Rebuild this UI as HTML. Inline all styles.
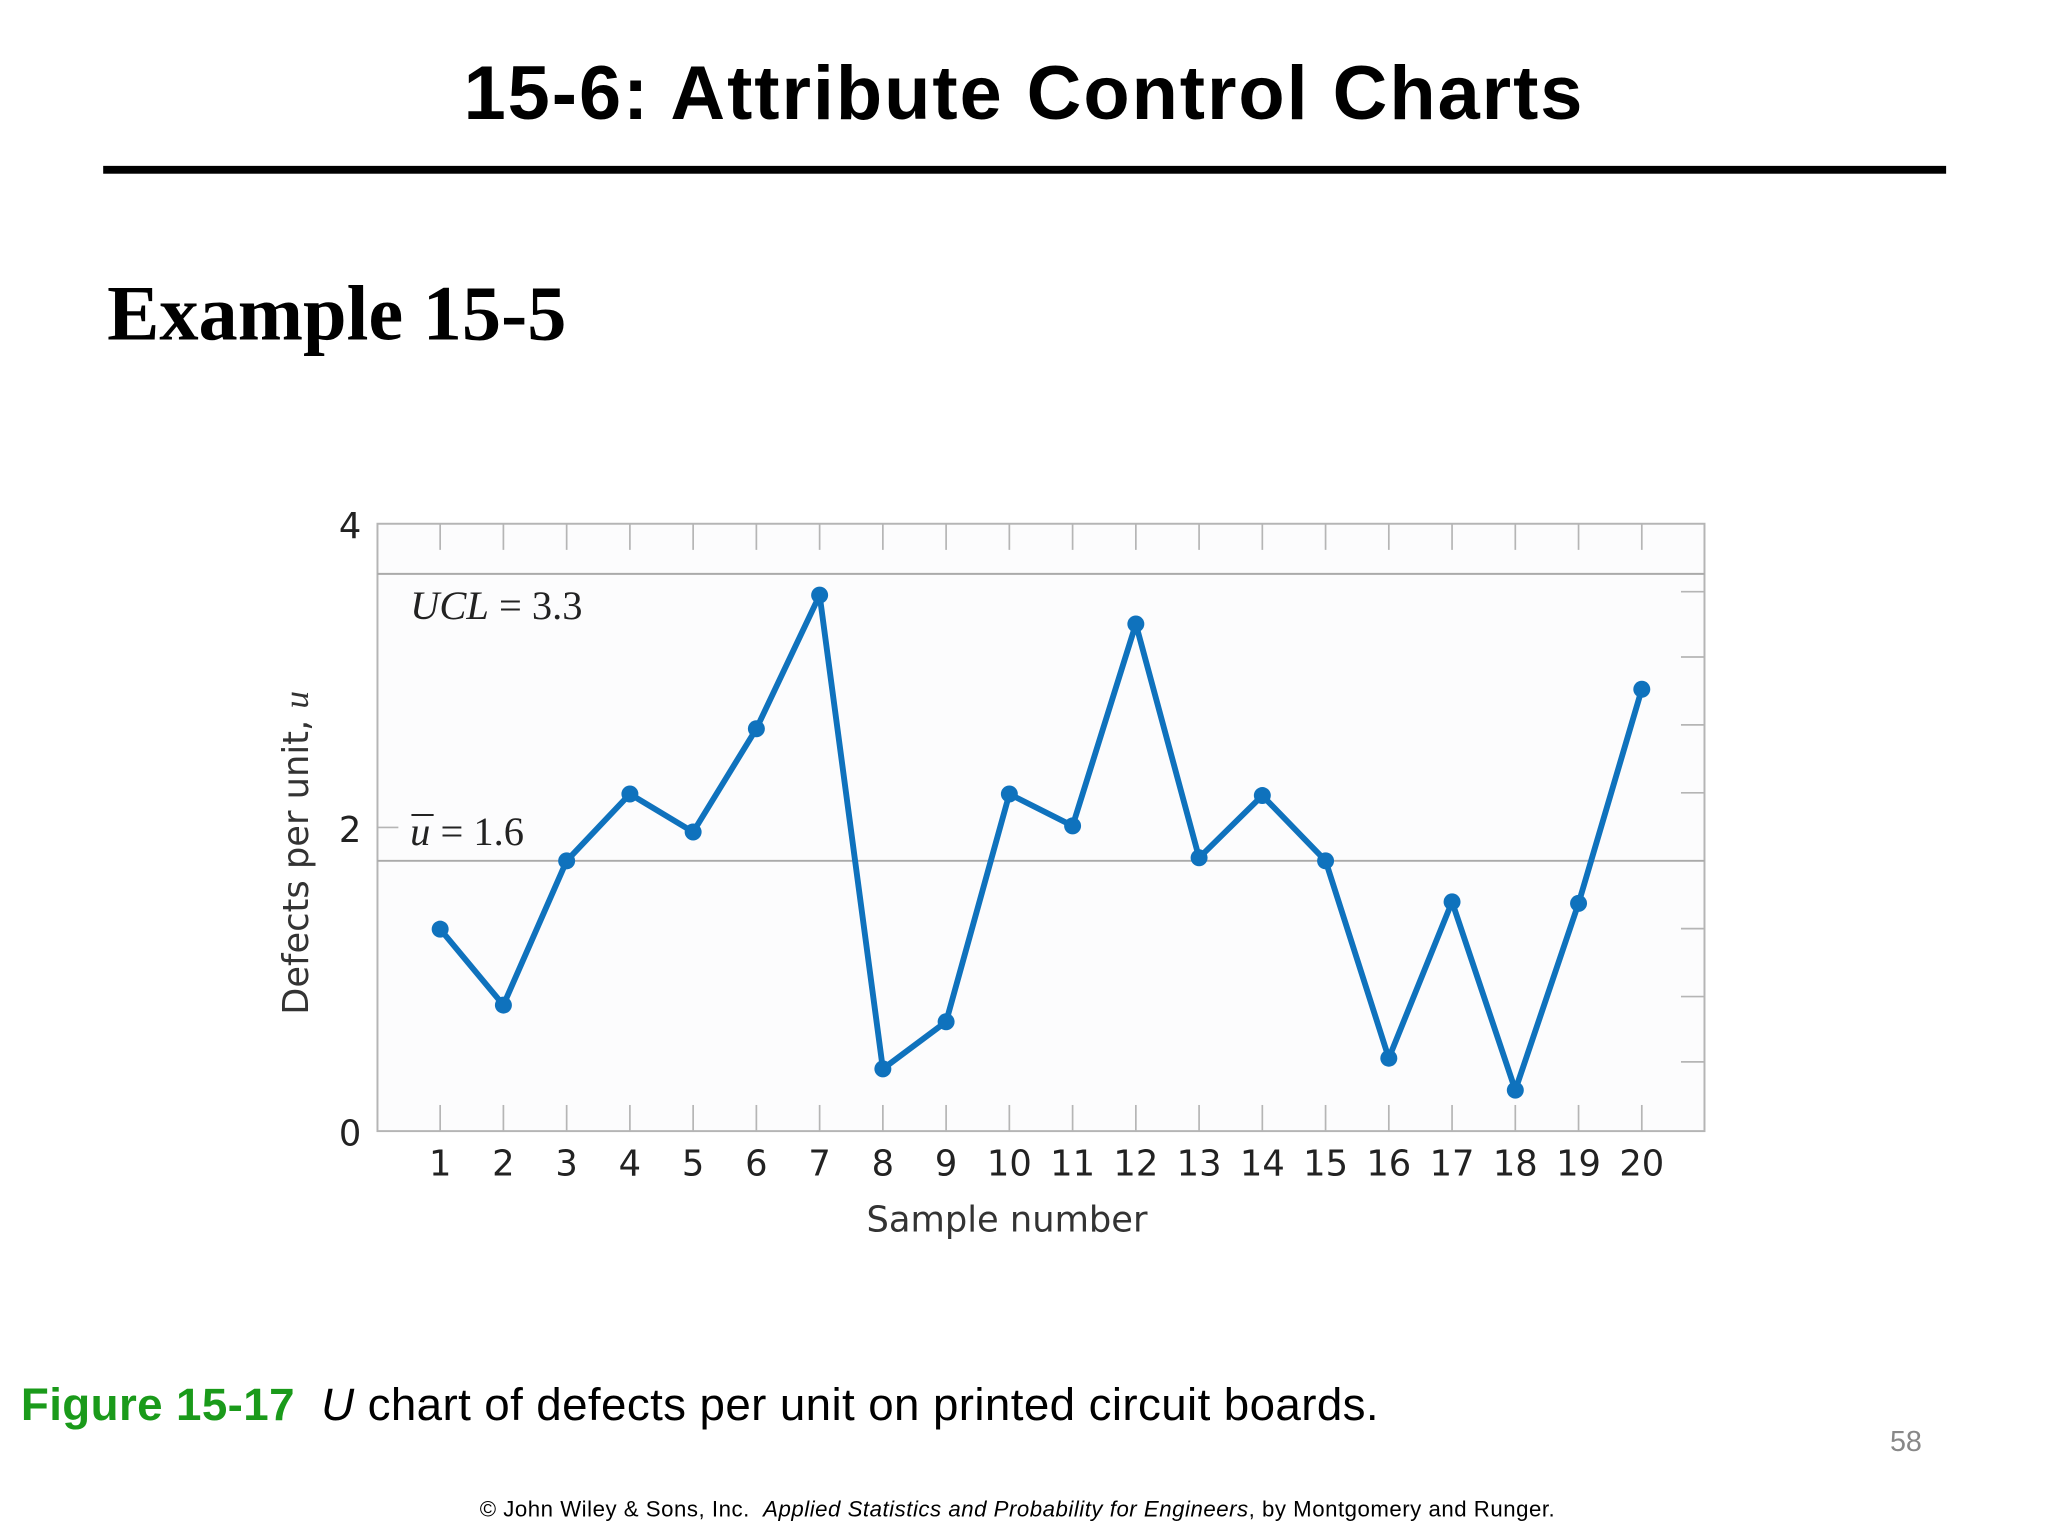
<!DOCTYPE html>
<html><head><meta charset="utf-8"><style>
html,body{margin:0;padding:0;width:2048px;height:1536px;overflow:hidden;background:#fff}
#wrap{position:absolute;left:0;top:0;width:1568px;height:1176px;transform:scale(1.30612);transform-origin:0 0}
.abs{position:absolute;white-space:nowrap}
</style></head><body>
<div id="wrap">
<div class="abs" style="left:0;width:1568px;text-align:center;top:38px;font:bold 58px 'Liberation Sans',sans-serif;letter-spacing:1.5px">15-6: Attribute Control Charts</div>
<div class="abs" style="left:79px;top:127px;width:1411px;height:6px;background:#000"></div>
<div class="abs" style="left:82px;top:206px;font:bold 60px 'Liberation Serif',serif">Example 15-5</div>
<svg class="abs" style="left:0;top:0" width="1568" height="1176" id="chart"></svg>
<div class="abs" style="left:16px;top:1056px;font:35px 'Liberation Sans',sans-serif;letter-spacing:0.3px"><span style="color:#1a9a1a;font-weight:bold">Figure 15-17</span>&nbsp; <i>U</i> chart of defects per unit on printed circuit boards.</div>
<div class="abs" style="left:1447px;top:1091px;font:22px 'Liberation Sans',sans-serif;color:#888">58</div>
<div class="abs" style="left:0;width:1558px;text-align:center;top:1146px;font:17px 'Liberation Sans',sans-serif;letter-spacing:0.4px">© John Wiley &amp; Sons, Inc.&nbsp; <i>Applied Statistics and Probability for Engineers</i>, by Montgomery and Runger.</div>
</div>
<script>
const samples=[1,2,3,4,5,6,7,8,9,10,11,12,13,14,15,16,17,18,19,20];
const defects=[1.33,0.83,1.78,2.22,1.97,2.65,3.53,0.41,0.72,2.22,2.01,3.34,1.80,2.21,1.78,0.48,1.51,0.27,1.50,2.91];
const yTicks=[0,2,4];
const uclLine=3.67, centerLine=1.78;
const uclLabel="UCL = 3.3", cLabel="= 1.6";
const ns="http://www.w3.org/2000/svg";
const svg=document.getElementById('chart');
const L=289,R=1305,T=401,B=866;
const x=i=>337+(i-1)*(1257-337)/19;
const y=v=>B-(v/4)*(B-T);
function mk(t,a){const e=document.createElementNS(ns,t);for(const k in a)e.setAttribute(k,a[k]);svg.appendChild(e);return e;}
let e=mk('rect',{x:L,y:T,width:R-L,height:B-T,fill:'#fcfcfd',stroke:'#b5b5b5','stroke-width':1.5});


samples.forEach(s=>{
 let t=mk('line',{x1:x(s),x2:x(s),y1:T,y2:T+20,stroke:'#b5b5b5','stroke-width':1.3});
 
 
 let b=mk('line',{x1:x(s),x2:x(s),y1:B-20,y2:B,stroke:'#b5b5b5','stroke-width':1.3});
 
 
 let l=mk('text',{x:x(s),y:B+34,'text-anchor':'middle','font-family':'DejaVu Sans, sans-serif','font-size':27,fill:'#222'});
 l.textContent=s;
 
 
});
[453,503,555,607,711,763,813].forEach(py=>{
 let t=mk('line',{x1:R-18,x2:R,y1:py,y2:py,stroke:'#b5b5b5','stroke-width':1.3});
 
 
});
yTicks.forEach(v=>{
 let l=mk('text',{x:268,y:y(v)+11,'text-anchor':'middle','font-family':'DejaVu Sans, sans-serif','font-size':27,fill:'#222'});
 l.textContent=v;
 
 
});
let t2=mk('line',{x1:L,x2:L+16,y1:y(2),y2:y(2),stroke:'#b5b5b5','stroke-width':1.3});


let u=mk('line',{x1:L,x2:R,y1:y(uclLine),y2:y(uclLine),stroke:'#aaa','stroke-width':1.5});


let c=mk('line',{x1:L,x2:R,y1:y(centerLine),y2:y(centerLine),stroke:'#aaa','stroke-width':1.5});


let ul=mk('text',{x:314,y:474,'font-family':'Liberation Serif, serif','font-size':31,fill:'#222'});
ul.innerHTML='<tspan font-style="italic">UCL</tspan> = 3.3';


let cl=mk('text',{x:314,y:647,'font-family':'Liberation Serif, serif','font-size':31,fill:'#222'});
cl.innerHTML='<tspan font-style="italic">u</tspan> '+cLabel;


let ob=mk('line',{x1:315,x2:332,y1:624,y2:624,stroke:'#222','stroke-width':1.5});


let pl=mk('polyline',{points:samples.map((s,i)=>x(s)+','+y(defects[i])).join(' '),fill:'none',stroke:'#0f72bd','stroke-width':4.5,'stroke-linejoin':'round'});


samples.forEach((s,i)=>{
 let p=mk('circle',{cx:x(s),cy:y(defects[i]),r:6.5,fill:'#0f72bd'});
 
 
});
let xt=mk('text',{x:771,y:943,'text-anchor':'middle','font-family':'DejaVu Sans, sans-serif','font-size':27,fill:'#333'});
xt.textContent='Sample number';


let yt=mk('text',{x:0,y:0,'text-anchor':'middle','font-family':'DejaVu Sans, sans-serif','font-size':27,fill:'#333',transform:'translate(236,653) rotate(-90)'});
yt.innerHTML='Defects per unit, <tspan font-family="Liberation Serif, serif" font-style="italic">u</tspan>';


</script>
</body></html>
